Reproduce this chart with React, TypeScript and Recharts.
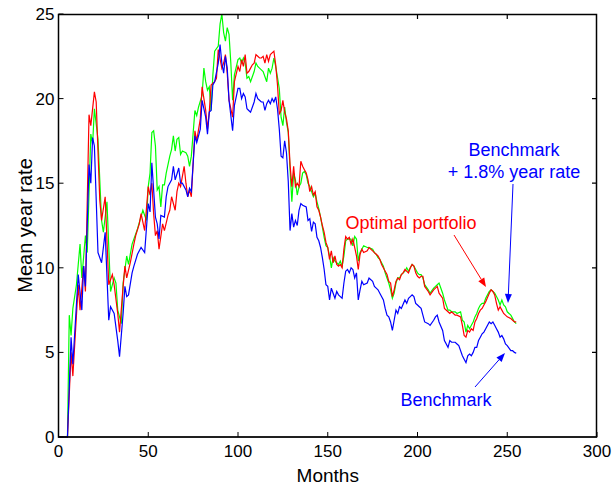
import { LineChart, Line, XAxis, YAxis } from "recharts";

const FONT = "'Liberation Sans', Arial, Helvetica, sans-serif";

// [month, mean year rate]
const benchmark: [number, number][] = [
  [0, 0], [5, 0], [7, 5.9], [8, 4.3], [11, 9.6], [13, 7.5], [14, 10.1], [15, 8.9], [17, 16.1], [18, 15.0],
  [19, 17.7], [20, 17.2], [22, 10.9], [24, 10.3], [26, 12.1], [28, 6.9], [29, 7.7], [31, 7.3], [33, 5.7], [34, 4.75],
  [36, 7.3], [37, 8.9], [38, 8.3], [39, 8.4], [41, 9.7], [42, 10.1], [44, 10.8], [46, 11.2], [48, 10.9], [50, 13.8],
  [51, 13.3], [52, 16.2], [54, 13.0], [55, 12.6], [56, 11.7], [57, 13.1], [59, 13.0], [60, 14.2], [61, 14.8], [63, 15.2],
  [64, 16.0], [65, 15.2], [67, 15.9], [68, 15.0], [69, 15.0], [71, 14.6], [72, 14.2], [73, 14.7], [74, 14.5], [76, 17.8],
  [77, 17.4], [79, 18.2], [80, 19.9], [82, 18.9], [83, 17.9], [84, 19.2], [85, 19.3], [86, 20.8], [87, 21.0], [89, 22.1],
  [90, 23.2], [91, 22.1], [92, 21.5], [93, 22.5], [94, 21.8], [95, 19.9], [97, 18.1], [98, 19.6], [100, 20.6], [101, 20.6],
  [102, 20.0], [103, 20.3], [104, 20.1], [105, 19.4], [106, 19.3], [107, 19.2], [109, 19.8], [110, 20.3], [111, 20.0], [112, 19.9],
  [113, 19.8], [114, 19.8], [115, 19.3], [116, 19.7], [117, 19.9], [118, 19.7], [119, 20.0], [120, 19.8], [121, 20.1], [122, 19.4],
  [123, 18.2], [124, 16.6], [125, 16.5], [126, 17.5], [127, 16.8], [128, 15.1], [129, 12.2], [130, 13.2], [131, 12.4], [132, 12.8],
  [133, 12.5], [134, 13.4], [135, 13.8], [136, 13.7], [138, 13.6], [139, 12.8], [140, 12.9], [141, 12.15], [142, 12.7], [143, 12.6],
  [144, 11.8], [145, 11.6], [146, 11.2], [147, 10.6], [148, 9.9], [149, 9.0], [150, 8.9], [151, 8.1], [152, 8.8], [153, 8.5],
  [154, 8.2], [155, 8.6], [156, 8.4], [157, 8.3], [158, 8.2], [159, 9.1], [160, 9.8], [161, 9.9], [162, 9.7], [163, 10.0],
  [164, 9.9], [165, 9.4], [166, 9.7], [167, 8.1], [168, 8.7], [169, 9.2], [170, 9.0], [172, 9.1], [173, 9.4], [175, 9.2],
  [176, 8.9], [177, 8.8], [178, 8.7], [179, 8.5], [181, 8.1], [182, 7.6], [183, 7.2], [184, 7.1], [185, 6.8], [186, 6.3],
  [187, 6.9], [188, 7.5], [189, 7.3], [190, 7.7], [191, 7.6], [193, 8.1], [194, 7.9], [195, 8.2], [196, 8.3], [197, 8.4],
  [198, 8.3], [199, 7.9], [200, 7.8], [201, 7.7], [202, 7.6], [203, 7.2], [204, 6.8], [206, 6.7], [207, 6.6], [209, 6.9],
  [210, 7.1], [211, 7.2], [212, 6.8], [214, 6.3], [215, 5.7], [217, 5.3], [218, 5.7], [219, 5.6], [221, 5.6], [222, 5.5],
  [223, 5.4], [225, 4.8], [226, 4.6], [227, 4.4], [228, 4.8], [229, 4.9], [230, 4.8], [231, 5.0], [232, 5.3], [233, 5.3],
  [234, 5.7], [235, 5.9], [236, 6.1], [237, 6.2], [238, 6.4], [240, 6.8], [241, 6.7], [242, 6.8], [243, 6.6], [244, 6.4],
  [245, 6.2], [246, 5.9], [247, 6.0], [248, 5.8], [249, 5.5], [250, 5.4], [252, 5.1], [253, 5.1], [254, 5.0], [255, 4.95],
];

const optimal: [number, number][] = [
  [0, 0], [5, 0], [7, 5.0], [8, 3.6], [11, 9.0], [12, 7.5], [14, 10.1], [15, 8.6], [17, 19.05], [18, 18.4],
  [20, 20.4], [21, 19.8], [23, 14.0], [24, 12.8], [26, 14.2], [28, 9.0], [30, 9.6], [31, 9.0], [33, 7.3], [34, 6.2],
  [36, 8.9], [37, 10.1], [38, 9.4], [40, 10.3], [42, 11.4], [43, 11.9], [45, 12.6], [46, 13.2], [48, 12.2], [50, 14.8],
  [51, 14.3], [52, 15.0], [53, 13.2], [54, 11.9], [55, 12.2], [56, 11.1], [58, 12.6], [59, 12.2], [61, 13.1], [62, 13.4],
  [63, 14.2], [65, 13.4], [66, 14.5], [67, 15.0], [68, 14.8], [70, 16.0], [71, 15.0], [72, 14.2], [73, 14.6], [74, 14.2],
  [76, 18.1], [77, 17.5], [79, 18.8], [80, 20.7], [82, 19.3], [83, 18.2], [84, 19.2], [85, 20.8], [87, 21.0], [88, 21.2],
  [89, 22.9], [91, 21.8], [92, 22.1], [93, 22.6], [94, 21.5], [95, 19.9], [97, 18.9], [98, 21.0], [100, 21.9], [101, 21.6],
  [102, 22.3], [103, 21.9], [104, 22.6], [105, 21.5], [106, 21.6], [107, 21.8], [108, 22.0], [109, 22.1], [110, 22.6], [111, 22.5],
  [112, 22.4], [113, 22.4], [114, 22.5], [115, 22.1], [116, 22.6], [117, 22.2], [118, 22.6], [119, 22.7], [120, 22.8], [121, 22.0],
  [122, 20.8], [123, 19.1], [124, 19.3], [125, 19.9], [126, 19.2], [127, 18.8], [128, 18.1], [129, 16.1], [130, 14.8], [131, 16.0],
  [132, 14.8], [133, 15.0], [134, 14.8], [135, 16.3], [136, 16.0], [137, 15.8], [138, 15.6], [139, 15.2], [140, 14.5], [141, 14.8],
  [142, 14.3], [143, 14.5], [144, 13.6], [145, 13.4], [146, 13.0], [147, 12.5], [148, 12.1], [149, 11.5], [150, 11.2], [151, 10.5],
  [152, 11.0], [153, 10.3], [154, 10.7], [155, 10.2], [156, 10.1], [157, 10.2], [158, 10.0], [159, 11.1], [160, 11.85], [161, 11.7],
  [162, 11.8], [163, 11.4], [164, 11.7], [165, 11.2], [166, 10.7], [167, 9.9], [168, 10.8], [169, 11.1], [170, 10.9], [172, 11.0],
  [173, 11.2], [175, 11.0], [176, 10.9], [177, 10.8], [178, 10.7], [179, 10.5], [180, 10.2], [182, 9.8], [183, 9.6], [184, 9.2],
  [185, 9.1], [186, 8.3], [187, 8.7], [188, 9.2], [189, 9.4], [190, 9.3], [191, 9.6], [192, 9.7], [193, 9.9], [195, 9.7],
  [196, 10.0], [197, 10.2], [198, 10.1], [199, 9.7], [200, 9.5], [201, 9.4], [202, 9.5], [203, 9.5], [204, 8.9], [206, 8.6],
  [207, 8.4], [209, 8.7], [210, 8.8], [211, 8.9], [212, 8.5], [214, 8.2], [215, 7.6], [217, 7.4], [218, 7.3], [219, 7.4],
  [221, 7.2], [222, 7.2], [224, 7.1], [225, 6.6], [226, 6.0], [227, 5.9], [228, 6.3], [229, 6.2], [230, 6.4], [231, 6.3],
  [232, 6.8], [233, 7.0], [234, 7.3], [235, 7.5], [236, 7.6], [237, 7.8], [238, 8.0], [240, 8.5], [241, 8.7], [242, 8.6],
  [243, 8.4], [244, 7.9], [245, 7.5], [246, 7.7], [247, 7.5], [248, 7.3], [249, 7.2], [250, 7.1], [252, 7.0], [253, 6.9],
  [254, 6.8], [255, 6.8],
];

const benchmarkPlus: [number, number][] = [
  [0, 0], [5, 0], [6, 7.2], [7, 6.0], [8, 7.6], [10, 9.0], [12, 11.4], [13, 9.4], [15, 11.9], [16, 10.9],
  [18, 17.9], [19, 17.3], [20, 19.4], [22, 17.6], [24, 12.8], [25, 12.1], [27, 13.9], [29, 8.6], [31, 9.4], [32, 9.1],
  [33, 7.5], [35, 6.7], [36, 9.1], [38, 10.7], [39, 10.2], [41, 11.4], [44, 12.3], [47, 13.4], [49, 12.8], [50, 14.8],
  [51, 15.6], [52, 18.0], [53, 18.1], [54, 17.2], [55, 14.6], [56, 14.8], [57, 13.6], [58, 14.9], [59, 14.9], [60, 15.6],
  [62, 16.6], [63, 17.0], [64, 17.8], [65, 16.9], [66, 17.6], [67, 17.7], [68, 16.7], [69, 16.9], [71, 16.8], [72, 16.6],
  [73, 16.0], [74, 16.6], [76, 19.3], [77, 19.0], [78, 19.5], [80, 20.2], [81, 21.8], [82, 21.0], [83, 20.5], [84, 20.7],
  [85, 19.3], [86, 21.4], [87, 22.8], [89, 23.1], [90, 24.4], [91, 25.0], [92, 23.9], [93, 23.4], [94, 24.2], [95, 23.8],
  [96, 22.1], [97, 19.9], [98, 21.4], [100, 22.3], [101, 22.4], [102, 22.1], [103, 22.4], [104, 22.1], [105, 21.2], [106, 21.3],
  [107, 21.0], [109, 21.6], [110, 22.1], [111, 21.9], [112, 21.8], [113, 21.7], [114, 21.6], [116, 21.0], [117, 21.8], [118, 21.5],
  [119, 21.8], [120, 22.4], [121, 21.9], [123, 20.6], [124, 18.9], [125, 18.4], [126, 19.5], [127, 18.6], [128, 18.0], [129, 15.8],
  [130, 13.9], [131, 15.6], [132, 15.2], [133, 14.3], [134, 14.8], [135, 15.0], [136, 15.6], [137, 15.7], [138, 15.5], [139, 15.0],
  [140, 14.8], [141, 14.5], [142, 14.2], [143, 14.4], [144, 13.9], [145, 13.5], [146, 13.0], [147, 12.4], [148, 11.8], [149, 11.3],
  [150, 11.2], [151, 10.7], [152, 10.0], [153, 10.6], [154, 10.4], [155, 10.3], [156, 10.2], [157, 10.4], [158, 10.1], [159, 10.7],
  [160, 11.6], [161, 11.7], [163, 11.7], [164, 11.3], [165, 11.85], [166, 11.7], [167, 10.4], [168, 10.9], [169, 11.1], [170, 11.3],
  [172, 11.2], [173, 11.2], [175, 11.1], [176, 10.9], [177, 10.8], [178, 10.6], [179, 10.5], [181, 10.1], [182, 9.7], [183, 9.4],
  [184, 9.1], [185, 8.7], [186, 8.2], [187, 8.5], [188, 9.1], [189, 9.4], [190, 9.4], [191, 9.6], [192, 9.7], [193, 9.8],
  [194, 10.0], [195, 9.8], [196, 10.0], [197, 10.2], [198, 10.1], [199, 9.9], [200, 9.7], [201, 9.6], [202, 9.6], [203, 9.4],
  [204, 9.0], [206, 8.7], [207, 8.5], [209, 8.8], [210, 8.9], [211, 9.0], [212, 9.1], [214, 8.5], [215, 8.1], [217, 7.5],
  [218, 7.5], [219, 7.4], [221, 7.4], [222, 7.3], [224, 7.4], [225, 6.9], [226, 6.8], [227, 6.2], [228, 6.6], [229, 6.4],
  [230, 6.6], [231, 6.8], [232, 7.1], [233, 7.3], [234, 7.6], [235, 7.8], [236, 7.9], [237, 7.9], [238, 8.2], [240, 8.6],
  [241, 8.7], [242, 8.6], [243, 8.5], [244, 8.3], [245, 8.1], [246, 7.8], [247, 8.1], [248, 7.8], [249, 7.7], [250, 7.4],
  [252, 7.2], [253, 7.0], [254, 6.8], [255, 6.7],
];

const monthTicks = [0, 50, 100, 150, 200, 250, 300];
const rateTicks = [0, 5, 10, 15, 20, 25];
const X_MAX = 300;
const Y_MAX = 25;

// plot box, matching the chart margins/axis sizes below
const W = 614, H = 488;
const MARGIN = { top: 14, right: 17, bottom: 0, left: -8 };
const Y_AXIS_W = 66.5, X_AXIS_H = 51;
const BOX_L = MARGIN.left + Y_AXIS_W;
const BOX_R = W - MARGIN.right;
const BOX_T = MARGIN.top;
const BOX_B = H - MARGIN.bottom - X_AXIS_H;
const px = (m: number) => BOX_L + (m / X_MAX) * (BOX_R - BOX_L);
const py = (r: number) => BOX_B - (r / Y_MAX) * (BOX_B - BOX_T);

const toRows = (s: [number, number][]) => s.map(([month, rate]) => ({ month, rate }));

const BottomTick = ({ x, y, payload }: any) => (
  <g>
    <line x1={x} x2={x} y1={y} y2={y - 5} stroke="#000" />
    <text x={x} y={y + 20} textAnchor="middle" fontSize={17} fontFamily={FONT} fill="#000">{payload.value}</text>
  </g>
);
const LeftTick = ({ x, y, payload }: any) => (
  <g>
    <line x1={x} x2={x + 5} y1={y} y2={y} stroke="#000" />
    <text x={x - 4} y={y + 6} textAnchor="end" fontSize={17} fontFamily={FONT} fill="#000">{payload.value}</text>
  </g>
);

function Arrow({ x1, y1, x2, y2, color }: { x1: number; y1: number; x2: number; y2: number; color: string }) {
  const a = Math.atan2(y2 - y1, x2 - x1);
  const len = 9, half = 3.5;
  const bx = x2 - len * Math.cos(a), by = y2 - len * Math.sin(a);
  const pts = [
    `${x2},${y2}`,
    `${bx + half * Math.sin(a)},${by - half * Math.cos(a)}`,
    `${bx - half * Math.sin(a)},${by + half * Math.cos(a)}`,
  ].join(" ");
  return (
    <g>
      <line x1={x1} y1={y1} x2={bx} y2={by} stroke={color} strokeWidth={1} />
      <polygon points={pts} fill={color} />
    </g>
  );
}

// inward ticks on the top and right edges of the box
const frameTicks =
  monthTicks.slice(1, -1).map((m) => `M${px(m)},${BOX_T} v5`).join(" ") + " " +
  rateTicks.slice(1, -1).map((r) => `M${BOX_R},${py(r)} h-5`).join(" ");

export default function App() {
  return (
    <div style={{ position: "absolute", left: 0, top: 0, width: W, height: H, background: "#fff" }}>
      <LineChart width={W} height={H} margin={MARGIN}>
        <XAxis dataKey="month" type="number" domain={[0, X_MAX]} ticks={monthTicks} interval={0}
          height={X_AXIS_H} tickSize={0} tickMargin={0} tickLine={false} axisLine={{ stroke: "#000" }} tick={<BottomTick />}
          label={{ value: "Months", position: "insideBottom", offset: 6, fontSize: 19, fontFamily: FONT, fill: "#000" }} />
        <YAxis type="number" domain={[0, Y_MAX]} ticks={rateTicks} interval={0} width={Y_AXIS_W}
          tickSize={0} tickMargin={0} tickLine={false} axisLine={{ stroke: "#000" }} tick={<LeftTick />}
          label={{ value: "Mean year rate", angle: -90, position: "center", fontSize: 20, fontFamily: FONT, fill: "#000" }} />
        <Line data={toRows(benchmarkPlus)} dataKey="rate" type="linear" stroke="#00ff00"
          strokeWidth={1.2} dot={false} isAnimationActive={false} />
        <Line data={toRows(optimal)} dataKey="rate" type="linear" stroke="#ff0000"
          strokeWidth={1.2} dot={false} isAnimationActive={false} />
        <Line data={toRows(benchmark)} dataKey="rate" type="linear" stroke="#0000ff"
          strokeWidth={1.2} dot={false} isAnimationActive={false} />
      </LineChart>
      <svg width={W} height={H} style={{ position: "absolute", left: 0, top: 0 }}>
        <rect x={BOX_L} y={BOX_T + 0.5} width={BOX_R - BOX_L - 0.5} height={BOX_B - BOX_T - 0.5}
          fill="none" stroke="#000" strokeWidth={1.5} />
        <path d={frameTicks} fill="none" stroke="#000" strokeWidth={1.2} />

        <g fontFamily={FONT} fontSize={18}>
          <text x={514} y={156} textAnchor="middle" fill="#0000ff">Benchmark</text>
          <text x={514} y={178} textAnchor="middle" fill="#0000ff">+ 1.8% year rate</text>
          <text x={411} y={229} textAnchor="middle" fill="#ff0000">Optimal portfolio</text>
          <text x={446} y={406} textAnchor="middle" fill="#0000ff">Benchmark</text>
        </g>
        <Arrow x1={513} y1={184} x2={508} y2={303} color="#0000ff" />
        <Arrow x1={454} y1={235} x2={486} y2={287} color="#ff0000" />
        <Arrow x1={475} y1={387} x2={505} y2={353} color="#0000ff" />
      </svg>
    </div>
  );
}
